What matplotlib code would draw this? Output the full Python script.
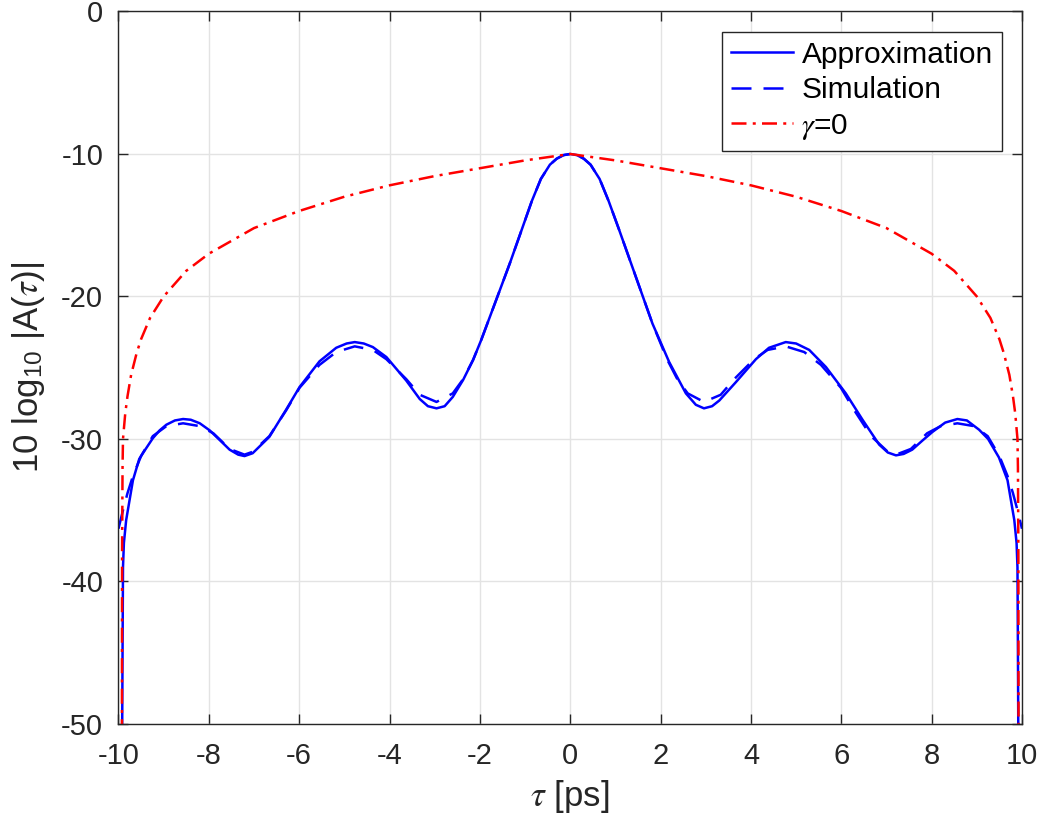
import matplotlib
matplotlib.use("Agg")
import matplotlib.pyplot as plt

# ---------------- data ----------------
approx_x = [-9.925, -9.91, -9.90, -9.88, -9.83, -9.68, -9.54, -9.46, -9.24, -9.09, -8.94,
            -8.75, -8.57, -8.40, -8.20, -7.98, -7.75, -7.54, -7.35, -7.21, -7.03, -6.66,
            -6.29, -5.99, -5.55, -5.18, -4.95, -4.77, -4.57, -4.37, -4.07, -3.63, -3.33,
            -3.15, -2.96, -2.78, -2.60, -2.37, -2.15, -1.97, -1.64, -1.34, -1.05, -0.85,
            -0.65, -0.45, -0.30, -0.15, 0.0,
            0.15, 0.30, 0.45, 0.65, 0.85, 1.08, 1.45, 1.82, 2.19, 2.56, 2.78, 2.96, 3.14,
            3.30, 3.67, 4.11, 4.40, 4.77, 5.00, 5.29, 5.66, 6.10, 6.47, 6.84, 7.03, 7.21,
            7.38, 7.57, 7.80, 8.02, 8.30, 8.57, 8.78, 9.05, 9.25, 9.49, 9.68, 9.83, 9.88,
            9.90, 9.91, 9.925]
approx_y = [-55.0, -45.0, -39.0, -37.3, -35.7, -32.9, -31.4, -31.0, -29.95, -29.4, -29.0,
            -28.7, -28.6, -28.65, -28.9, -29.4, -30.1, -30.75, -31.1, -31.2, -31.0, -29.85,
            -27.95, -26.35, -24.55, -23.6, -23.3, -23.2, -23.3, -23.55, -24.25, -25.9, -27.2,
            -27.7, -27.85, -27.7, -27.05, -25.85, -24.45, -23.05, -20.25, -17.7, -15.1,
            -13.3, -11.75, -10.75, -10.33, -10.08, -10.0,
            -10.08, -10.33, -10.75, -11.75, -13.3, -15.3, -18.6, -21.9, -24.6, -26.8, -27.6,
            -27.85, -27.7, -27.3, -26.0, -24.4, -23.6, -23.2, -23.3, -23.75, -24.95, -26.8,
            -28.65, -30.4, -30.95, -31.15, -31.05, -30.75, -30.1, -29.5, -28.85, -28.6,
            -28.7, -29.35, -30.0, -31.3, -32.9, -35.7, -37.3, -39.0, -45.0, -55.0]

sim_x = [-10.0, -9.90, -9.80, -9.68, -9.50, -9.24, -8.94, -8.57, -8.20, -7.90, -7.54,
         -7.21, -7.03, -6.66, -6.29, -5.99, -5.55, -5.18, -4.77, -4.37, -4.07, -3.63,
         -3.33, -2.96, -2.60, -2.37, -2.15, -1.97, -1.64, -1.34, -1.05, -0.85, -0.65,
         -0.45, -0.30, -0.15, 0.0,
         0.15, 0.30, 0.45, 0.65, 0.85, 1.08, 1.45, 1.82, 2.15, 2.37, 2.60, 2.96, 3.33,
         3.63, 4.07, 4.37, 4.77, 5.18, 5.55, 5.99, 6.29, 6.66, 7.03, 7.21, 7.54, 7.90,
         8.20, 8.57, 8.94, 9.24, 9.50, 9.68, 9.80, 9.90, 10.0]
sim_y = [-36.3, -35.0, -33.8, -32.6, -31.2, -29.8, -29.1, -28.9, -29.1, -29.6, -30.7,
         -31.1, -30.9, -29.8, -28.0, -26.4, -24.8, -23.9, -23.5, -23.75, -24.4, -25.8,
         -26.9, -27.4, -26.8, -25.8, -24.45, -23.05, -20.25, -17.7, -15.1, -13.3, -11.75,
         -10.75, -10.33, -10.08, -10.0,
         -10.08, -10.33, -10.75, -11.75, -13.3, -15.3, -18.6, -21.9, -24.45, -25.8, -26.8,
         -27.4, -26.9, -25.8, -24.4, -23.75, -23.5, -23.9, -24.8, -26.4, -28.0, -29.8,
         -30.9, -31.1, -30.7, -29.6, -29.1, -28.9, -29.1, -29.8, -31.2, -32.6, -33.8,
         -35.0, -36.3]

gamma0_x = [-9.925, -9.92, -9.91, -9.90, -9.85, -9.80, -9.72, -9.60, -9.50, -9.30, -9.00,
            -8.50, -8.00, -7.00, -6.00, -5.00, -4.00, -3.00, -2.00, -1.00, 0.0,
            1.00, 2.00, 3.00, 4.00, 5.00, 6.00, 7.00, 8.00, 8.50, 9.00, 9.30, 9.50, 9.60,
            9.72, 9.80, 9.85, 9.90, 9.91, 9.92, 9.925]
gamma0_y = [-55.0, -38.0, -32.0, -30.0, -28.2, -27.0, -25.5, -24.0, -23.0, -21.5, -20.0,
            -18.2, -17.0, -15.2, -14.0, -13.0, -12.2, -11.55, -11.0, -10.45, -10.0,
            -10.45, -11.0, -11.55, -12.2, -13.0, -14.0, -15.2, -17.0, -18.2, -20.0, -21.5,
            -23.0, -24.0, -25.5, -27.0, -28.2, -30.0, -32.0, -38.0, -55.0]

x_ticks = [-10, -8, -6, -4, -2, 0, 2, 4, 6, 8, 10]
y_ticks = [-50, -40, -30, -20, -10, 0]
labels = ["Approximation", "Simulation", r"$\gamma$=0"]

# ---------------- styling ----------------
plt.rcParams["font.family"] = ["Liberation Sans", "DejaVu Sans"]
plt.rcParams["mathtext.fontset"] = "stix"
plt.rcParams["axes.unicode_minus"] = False

fig = plt.figure(figsize=(10.42, 8.21), dpi=100)
ax = fig.add_axes([0.1137, 0.1182, 0.8671, 0.8678])

lw = 1.8
ax.plot(approx_x, approx_y, color="#0000ff", lw=lw, ls="-", label=labels[0])
ax.plot(sim_x, sim_y, color="#0000ff", lw=lw, ls=(0, (8, 4.8)), label=labels[1])
ax.plot(gamma0_x, gamma0_y, color="#ff0000", lw=lw, ls=(0, (6, 2.5, 1.2, 2.5)), label=labels[2])

ax.set_xlim(-10, 10)
ax.set_ylim(-50, 0)
ax.set_xticks(x_ticks)
ax.set_yticks(y_ticks)
ax.set_xticklabels([str(v) for v in x_ticks])
ax.set_yticklabels([str(v) for v in y_ticks])

ax.grid(True, color="#e3e3e3", lw=1.0)
ax.set_axisbelow(True)
for s in ax.spines.values():
    s.set_color("#262626")
    s.set_linewidth(1.0)
ax.tick_params(direction="in", length=7, width=1.0, top=True, right=True,
               labelsize=21, colors="#262626")
ax.tick_params(axis="y", pad=11)
ax.tick_params(axis="x", pad=13)
for t in ax.get_xticklabels() + ax.get_yticklabels():
    t.set_color("#262626")

ax.set_xlabel(r"$\tau$ [ps]", fontsize=25, color="#262626", labelpad=6)
ax.set_ylabel(r"10 log$_{\mathregular{10}}$ |A($\tau$)|", fontsize=25, color="#262626",
              labelpad=10)

leg = ax.legend(loc="upper right", fontsize=21.5, frameon=True, fancybox=False,
                edgecolor="#262626", framealpha=1.0, borderaxespad=0.68,
                handlelength=2.05, handletextpad=0.3, labelspacing=0.25,
                borderpad=0.3)
leg.get_frame().set_linewidth(1.0)

fig.savefig("out.png", dpi=100)
